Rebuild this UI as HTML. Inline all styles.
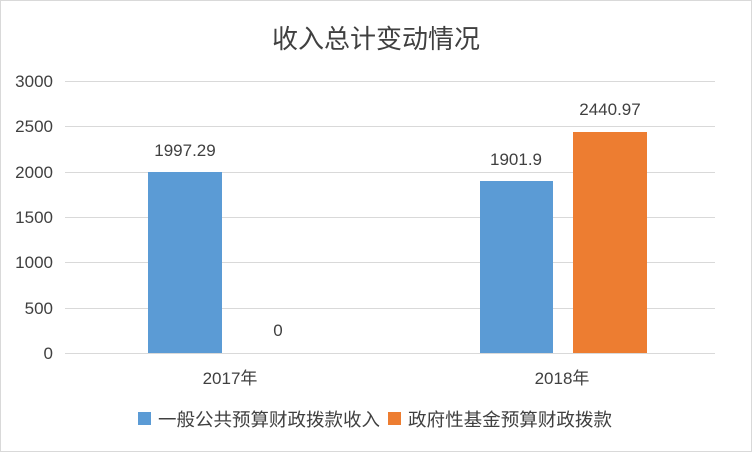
<!DOCTYPE html>
<html><head><meta charset="utf-8"><style>
body{margin:0;background:#fff}
svg{display:block}
text{font-family:"Liberation Sans","Noto Sans CJK SC",sans-serif;fill:#404040}
</style></head><body>
<svg width="752" height="452" viewBox="0 0 752 452">
<rect x="0.5" y="0.5" width="751" height="451" fill="#fff" stroke="#d9d9d9"/>
<text x="376" y="48" font-size="26" text-anchor="middle" fill="#595959">收入总计变动情况</text>
<g stroke="#d9d9d9" stroke-width="1">
<line x1="65" y1="81.5" x2="715" y2="81.5"/>
<line x1="65" y1="126.5" x2="715" y2="126.5"/>
<line x1="65" y1="172.5" x2="715" y2="172.5"/>
<line x1="65" y1="217.5" x2="715" y2="217.5"/>
<line x1="65" y1="262.5" x2="715" y2="262.5"/>
<line x1="65" y1="308.5" x2="715" y2="308.5"/>
<line x1="65" y1="353.5" x2="715" y2="353.5"/>
</g>
<g font-size="17" text-anchor="end">
<text x="53" y="87">3000</text>
<text x="53" y="132">2500</text>
<text x="53" y="178">2000</text>
<text x="53" y="223">1500</text>
<text x="53" y="268">1000</text>
<text x="53" y="314">500</text>
<text x="53" y="359">0</text>
</g>
<rect x="148" y="172" width="74" height="181" fill="#5b9bd5"/>
<rect x="480" y="181" width="73" height="172" fill="#5b9bd5"/>
<rect x="573" y="132" width="74" height="221" fill="#ed7d31"/>
<g font-size="17" text-anchor="middle">
<text x="185" y="156">1997.29</text>
<text x="278" y="336">0</text>
<text x="516" y="165">1901.9</text>
<text x="610" y="115">2440.97</text>
<text x="230" y="384">2017年</text>
<text x="562" y="384">2018年</text>
</g>
<rect x="138" y="412" width="13" height="13" fill="#5b9bd5"/>
<text x="158" y="426" font-size="18" textLength="222" lengthAdjust="spacingAndGlyphs">一般公共预算财政拨款收入</text>
<rect x="388" y="412" width="13" height="13" fill="#ed7d31"/>
<text x="408" y="426" font-size="18" textLength="204" lengthAdjust="spacingAndGlyphs">政府性基金预算财政拨款</text>
</svg>
</body></html>
